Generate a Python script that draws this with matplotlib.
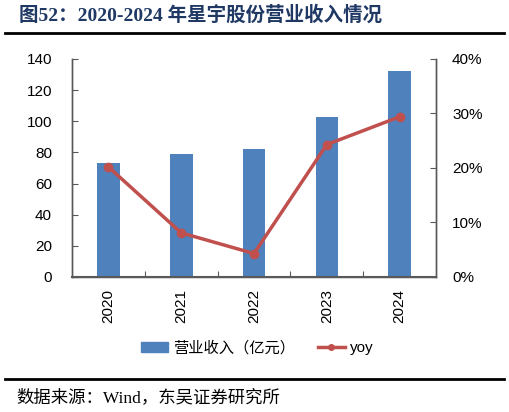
import matplotlib.pyplot as plt
from matplotlib.lines import Line2D
from matplotlib.patches import Patch
from matplotlib.ticker import FuncFormatter

years = ["2020", "2021", "2022", "2023", "2024"]
revenue = [73.0, 79.3, 82.5, 102.6, 132.6]
yoy = [20.2, 8.1, 4.3, 24.3, 29.4]

bar_color = "#4f81bd"
line_color = "#c0504d"
cjk = ["Liberation Sans", "Noto Sans CJK SC"]
serif_cjk = ["Liberation Serif", "Noto Sans CJK SC"]

fig = plt.figure(figsize=(5.09, 4.12), dpi=100)
ax = fig.add_axes([0.1415, 0.3277, 0.7151, 0.5291])
ax2 = ax.twinx()

x = list(range(len(years)))
ax.bar(x, revenue, width=0.31, color=bar_color, zorder=2)
ax2.plot(x, yoy, color=line_color, lw=2.5, marker="o", markersize=6, zorder=3)

ax.set_xlim(-0.5, len(years) - 0.5)
ax.set_ylim(0, 140)
ax.set_yticks(range(0, 141, 20))
ax2.set_ylim(0, 40)
ax2.set_yticks(range(0, 41, 10))
ax2.yaxis.set_major_formatter(FuncFormatter(lambda v, p: f"{int(v)}%"))

# category boundaries get the ticks, labels sit on the centres
ax.set_xticks([i + 0.5 for i in range(len(years) - 1)])
ax.set_xticklabels([])
ax.set_xticks(x, minor=True)
ax.set_xticklabels(years, minor=True, rotation=90, fontsize=11, family="Liberation Sans")
ax.tick_params(axis="x", which="minor", length=0, pad=9)
ax.tick_params(axis="x", which="major", direction="in", length=4, color="#595959")
ax.tick_params(axis="y", direction="in", length=4, color="#595959", pad=14.5, labelsize=11)
ax2.tick_params(axis="y", direction="in", length=4, color="#595959", pad=11.5, labelsize=11)
for lab in ax.get_yticklabels() + ax2.get_yticklabels():
    lab.set_family("Liberation Sans")

for a in (ax, ax2):
    a.spines["top"].set_visible(False)
    for s in ("left", "right", "bottom"):
        a.spines[s].set_color("#595959")
        a.spines[s].set_linewidth(1.0)
ax.spines["bottom"].set_linewidth(1.5)

handles = [Patch(color=bar_color), Line2D([], [], color=line_color, lw=2.5, marker="o", markersize=4)]
fig.legend(handles, ["营业收入（亿元）", "yoy"], loc="center", bbox_to_anchor=(0.505, 0.155),
           ncol=2, frameon=False, prop={"family": cjk, "size": 11},
           handlelength=1.8, handletextpad=0.3, columnspacing=1.5)

fig.text(0.037, 0.963, "图52：2020-2024 年星宇股份营业收入情况", family=serif_cjk,
         fontsize=14, fontweight="bold", color="#1f3864", va="center", ha="left")
fig.add_artist(Line2D([0.01, 0.99], [0.92, 0.92], color="black", lw=2))
fig.add_artist(Line2D([0.01, 0.99], [0.08, 0.08], color="black", lw=2))
fig.text(0.033, 0.034, "数据来源：Wind，东吴证券研究所", family=serif_cjk,
         fontsize=12.5, color="black", va="center", ha="left")

fig.savefig("out.png", dpi=100)
